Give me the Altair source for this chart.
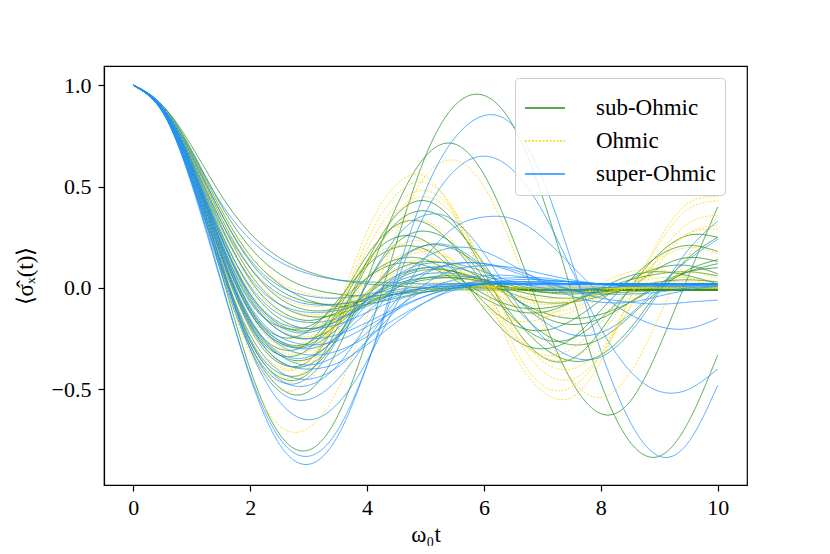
import altair as alt
import pandas as pd

T = [0.0, 0.5, 1.0, 1.5, 2.0, 2.5, 3.0, 3.5, 4.0, 4.5, 5.0,
     5.5, 6.0, 6.5, 7.0, 7.5, 8.0, 8.5, 9.0, 9.5, 10.0]

SUB_OHMIC = [
    [1.00, 0.88, 0.55, 0.08, -0.40, -0.72, -0.80, -0.63, -0.25, 0.22, 0.65, 0.90, 0.95, 0.80, 0.45, -0.02, -0.47, -0.76, -0.83, -0.66, -0.33],
    [1.00, 0.88, 0.56, 0.12, -0.28, -0.49, -0.51, -0.30, 0.04, 0.40, 0.65, 0.71, 0.56, 0.24, -0.14, -0.46, -0.62, -0.56, -0.29, 0.06, 0.40],
    [1.00, 0.88, 0.57, 0.16, -0.20, -0.37, -0.36, -0.16, 0.13, 0.36, 0.43, 0.32, 0.08, -0.18, -0.34, -0.35, -0.21, 0.00, 0.17, 0.26, 0.25],
    [1.00, 0.88, 0.58, 0.18, -0.16, -0.30, -0.27, -0.08, 0.16, 0.31, 0.32, 0.20, 0.02, -0.15, -0.25, -0.25, -0.15, -0.01, 0.10, 0.15, 0.13],
    [1.00, 0.89, 0.60, 0.22, -0.10, -0.24, -0.21, -0.06, 0.11, 0.20, 0.19, 0.08, -0.07, -0.18, -0.21, -0.16, -0.06, 0.04, 0.10, 0.11, 0.07],
    [1.00, 0.88, 0.55, 0.13, -0.25, -0.42, -0.41, -0.24, 0.02, 0.22, 0.28, 0.21, 0.05, -0.14, -0.29, -0.36, -0.33, -0.20, -0.01, 0.15, 0.25],
    [1.00, 0.89, 0.60, 0.23, -0.07, -0.19, -0.19, -0.08, 0.05, 0.12, 0.11, 0.04, -0.05, -0.11, -0.12, -0.07, 0.00, 0.06, 0.08, 0.06, 0.02],
    [1.00, 0.90, 0.70, 0.46, 0.27, 0.15, 0.08, 0.04, 0.02, 0.01, 0.00, 0.00, 0.00, 0.00, 0.00, 0.00, 0.00, 0.00, 0.00, 0.00, 0.00],
    [1.00, 0.90, 0.68, 0.41, 0.20, 0.07, 0.00, -0.03, -0.04, -0.03, -0.02, -0.01, -0.01, -0.01, -0.01, -0.01, -0.01, -0.01, -0.01, -0.01, -0.01],
    [1.00, 0.89, 0.66, 0.37, 0.13, -0.01, -0.07, -0.08, -0.06, -0.03, -0.01, 0.00, 0.00, -0.01, -0.01, -0.01, -0.01, -0.01, -0.01, -0.01, -0.01],
    [1.00, 0.89, 0.64, 0.33, 0.07, -0.08, -0.14, -0.13, -0.08, -0.03, 0.00, 0.01, 0.01, 0.00, -0.01, -0.01, -0.01, -0.01, -0.01, -0.01, -0.01],
    [1.00, 0.89, 0.62, 0.28, 0.00, -0.15, -0.20, -0.16, -0.08, 0.00, 0.04, 0.05, 0.03, 0.00, -0.02, -0.02, -0.02, -0.01, -0.01, -0.01, -0.01],
    [1.00, 0.88, 0.60, 0.25, -0.05, -0.21, -0.25, -0.18, -0.06, 0.04, 0.09, 0.08, 0.04, -0.01, -0.04, -0.05, -0.03, -0.02, -0.01, -0.01, -0.01],
    [1.00, 0.90, 0.67, 0.39, 0.16, 0.02, -0.06, -0.09, -0.08, -0.05, -0.02, 0.00, 0.01, 0.00, -0.01, -0.01, -0.01, -0.01, -0.01, -0.01, -0.01],
    [1.00, 0.88, 0.59, 0.21, -0.11, -0.26, -0.27, -0.13, 0.05, 0.14, 0.14, 0.06, -0.03, -0.09, -0.10, -0.07, -0.01, 0.04, 0.07, 0.08, 0.06],
    [1.00, 0.88, 0.58, 0.17, -0.18, -0.33, -0.30, -0.11, 0.13, 0.25, 0.23, 0.09, -0.10, -0.25, -0.30, -0.25, -0.11, 0.04, 0.16, 0.21, 0.18],
    [1.00, 0.88, 0.56, 0.13, -0.26, -0.44, -0.42, -0.19, 0.11, 0.32, 0.38, 0.30, 0.12, -0.08, -0.22, -0.28, -0.25, -0.14, -0.01, 0.09, 0.14],
    [1.00, 0.89, 0.65, 0.35, 0.10, -0.05, -0.11, -0.10, -0.05, 0.01, 0.05, 0.06, 0.04, 0.01, -0.02, -0.03, -0.02, -0.01, 0.00, 0.00, 0.00],
    [1.00, 0.88, 0.57, 0.17, -0.17, -0.33, -0.35, -0.23, -0.04, 0.13, 0.21, 0.19, 0.09, -0.04, -0.14, -0.18, -0.15, -0.07, 0.02, 0.08, 0.10],
    [1.00, 0.89, 0.61, 0.26, -0.03, -0.18, -0.21, -0.14, -0.03, 0.06, 0.10, 0.08, 0.03, -0.03, -0.07, -0.07, -0.04, 0.00, 0.03, 0.04, 0.03],
    [1.00, 0.89, 0.63, 0.31, 0.04, -0.11, -0.16, -0.12, -0.05, 0.02, 0.05, 0.05, 0.03, 0.00, -0.02, -0.02, -0.01, 0.00, 0.00, 0.00, 0.00],
    [1.00, 0.88, 0.59, 0.20, -0.12, -0.27, -0.28, -0.17, -0.02, 0.09, 0.13, 0.11, 0.04, -0.05, -0.12, -0.15, -0.13, -0.07, 0.01, 0.08, 0.12],
]

OHMIC = [
    [1.00, 0.87, 0.52, 0.04, -0.43, -0.68, -0.69, -0.50, -0.14, 0.27, 0.55, 0.63, 0.50, 0.19, -0.18, -0.45, -0.54, -0.42, -0.14, 0.16, 0.35],
    [1.00, 0.88, 0.55, 0.10, -0.30, -0.46, -0.40, -0.10, 0.28, 0.51, 0.55, 0.36, 0.02, -0.32, -0.51, -0.54, -0.36, -0.05, 0.24, 0.42, 0.45],
    [1.00, 0.88, 0.55, 0.11, -0.29, -0.44, -0.39, -0.12, 0.23, 0.46, 0.52, 0.38, 0.06, -0.28, -0.48, -0.49, -0.33, -0.05, 0.22, 0.39, 0.43],
    [1.00, 0.88, 0.56, 0.13, -0.25, -0.40, -0.36, -0.12, 0.19, 0.41, 0.48, 0.37, 0.10, -0.21, -0.41, -0.45, -0.33, -0.09, 0.16, 0.32, 0.36],
    [1.00, 0.88, 0.57, 0.16, -0.20, -0.36, -0.34, -0.17, 0.05, 0.20, 0.23, 0.12, -0.07, -0.24, -0.33, -0.30, -0.17, 0.00, 0.14, 0.20, 0.17],
    [1.00, 0.89, 0.59, 0.20, -0.13, -0.28, -0.25, -0.07, 0.12, 0.21, 0.17, 0.04, -0.09, -0.16, -0.15, -0.07, 0.02, 0.08, 0.09, 0.05, 0.00],
    [1.00, 0.89, 0.65, 0.35, 0.10, -0.04, -0.09, -0.08, -0.05, -0.02, 0.00, 0.01, 0.01, 0.00, 0.00, 0.00, 0.00, 0.00, 0.00, 0.00, 0.00],
    [1.00, 0.89, 0.63, 0.30, 0.03, -0.12, -0.17, -0.14, -0.07, -0.01, 0.02, 0.03, 0.02, 0.01, 0.00, 0.00, 0.00, 0.00, 0.00, 0.00, 0.00],
    [1.00, 0.88, 0.60, 0.25, -0.05, -0.20, -0.24, -0.17, -0.06, 0.03, 0.07, 0.06, 0.02, -0.01, -0.02, -0.02, -0.01, 0.00, 0.00, 0.00, 0.00],
    [1.00, 0.88, 0.58, 0.20, -0.12, -0.29, -0.31, -0.19, -0.02, 0.10, 0.14, 0.10, 0.02, -0.04, -0.07, -0.06, -0.03, 0.00, 0.02, 0.02, 0.01],
    [1.00, 0.90, 0.67, 0.39, 0.16, 0.03, -0.03, -0.05, -0.04, -0.02, -0.01, 0.00, 0.00, 0.00, 0.00, 0.00, 0.00, 0.00, 0.00, 0.00, 0.00],
    [1.00, 0.88, 0.56, 0.16, -0.18, -0.36, -0.38, -0.24, -0.04, 0.12, 0.18, 0.13, 0.02, -0.09, -0.14, -0.12, -0.05, 0.02, 0.07, 0.08, 0.05],
    [1.00, 0.88, 0.54, 0.09, -0.32, -0.50, -0.46, -0.22, 0.12, 0.37, 0.45, 0.35, 0.10, -0.18, -0.36, -0.40, -0.30, -0.10, 0.12, 0.27, 0.31],
    [1.00, 0.89, 0.62, 0.27, -0.02, -0.17, -0.20, -0.13, -0.02, 0.06, 0.09, 0.07, 0.02, -0.03, -0.05, -0.05, -0.03, 0.00, 0.02, 0.02, 0.01],
    [1.00, 0.88, 0.58, 0.21, -0.10, -0.26, -0.28, -0.18, -0.03, 0.08, 0.12, 0.09, 0.02, -0.05, -0.08, -0.07, -0.03, 0.01, 0.03, 0.03, 0.02],
    [1.00, 0.89, 0.64, 0.33, 0.07, -0.08, -0.13, -0.11, -0.06, -0.01, 0.02, 0.02, 0.01, 0.00, 0.00, 0.00, 0.00, 0.00, 0.00, 0.00, 0.00],
    [1.00, 0.88, 0.56, 0.14, -0.23, -0.39, -0.36, -0.15, 0.12, 0.30, 0.33, 0.22, 0.00, -0.22, -0.34, -0.35, -0.23, -0.03, 0.15, 0.27, 0.29],
    [1.00, 0.88, 0.57, 0.18, -0.15, -0.31, -0.31, -0.17, 0.02, 0.15, 0.19, 0.13, 0.02, -0.08, -0.12, -0.10, -0.04, 0.02, 0.05, 0.05, 0.03],
]

SUPER_OHMIC = [
    [1.00, 0.87, 0.52, 0.04, -0.44, -0.77, -0.87, -0.73, -0.38, 0.06, 0.48, 0.74, 0.85, 0.80, 0.54, 0.13, -0.31, -0.66, -0.83, -0.76, -0.48],
    [1.00, 0.87, 0.51, 0.03, -0.43, -0.74, -0.83, -0.70, -0.38, 0.02, 0.37, 0.58, 0.65, 0.58, 0.38, 0.09, -0.20, -0.41, -0.51, -0.50, -0.40],
    [1.00, 0.88, 0.55, 0.12, -0.30, -0.56, -0.65, -0.57, -0.36, -0.08, 0.15, 0.30, 0.35, 0.34, 0.25, 0.11, -0.03, -0.13, -0.19, -0.20, -0.15],
    [1.00, 0.87, 0.53, 0.10, -0.28, -0.46, -0.44, -0.25, 0.02, 0.25, 0.36, 0.33, 0.17, -0.05, -0.24, -0.34, -0.34, -0.22, -0.02, 0.19, 0.33],
    [1.00, 0.88, 0.56, 0.16, -0.18, -0.36, -0.38, -0.25, -0.05, 0.12, 0.21, 0.20, 0.10, -0.04, -0.16, -0.23, -0.22, -0.13, 0.01, 0.14, 0.24],
    [1.00, 0.88, 0.58, 0.22, -0.10, -0.26, -0.30, -0.24, -0.12, 0.00, 0.08, 0.12, 0.12, 0.09, 0.04, -0.01, -0.05, -0.07, -0.08, -0.07, -0.06],
    [1.00, 0.90, 0.67, 0.42, 0.24, 0.13, 0.07, 0.04, 0.03, 0.025, 0.02, 0.02, 0.02, 0.02, 0.02, 0.02, 0.02, 0.02, 0.02, 0.02, 0.02],
    [1.00, 0.89, 0.63, 0.33, 0.10, -0.03, -0.08, -0.08, -0.05, -0.02, 0.00, 0.01, 0.02, 0.02, 0.02, 0.02, 0.02, 0.02, 0.02, 0.02, 0.02],
    [1.00, 0.89, 0.61, 0.27, 0.01, -0.13, -0.17, -0.15, -0.09, -0.04, 0.00, 0.02, 0.03, 0.03, 0.025, 0.02, 0.02, 0.02, 0.02, 0.02, 0.02],
    [1.00, 0.88, 0.59, 0.23, -0.06, -0.21, -0.25, -0.23, -0.17, -0.10, -0.04, 0.00, 0.02, 0.03, 0.03, 0.03, 0.02, 0.02, 0.02, 0.02, 0.02],
    [1.00, 0.88, 0.57, 0.19, -0.12, -0.28, -0.33, -0.31, -0.24, -0.15, -0.07, -0.01, 0.02, 0.04, 0.04, 0.03, 0.02, 0.02, 0.01, 0.01, 0.01],
    [1.00, 0.87, 0.54, 0.14, -0.19, -0.36, -0.40, -0.37, -0.28, -0.17, -0.07, 0.00, 0.04, 0.05, 0.05, 0.03, 0.02, 0.01, 0.01, 0.01, 0.01],
    [1.00, 0.88, 0.60, 0.25, -0.04, -0.19, -0.22, -0.16, -0.06, 0.03, 0.07, 0.07, 0.04, 0.02, 0.01, 0.01, 0.01, 0.02, 0.02, 0.02, 0.02],
    [1.00, 0.88, 0.58, 0.20, -0.12, -0.27, -0.29, -0.20, -0.06, 0.05, 0.10, 0.10, 0.06, 0.02, -0.01, -0.01, 0.00, 0.01, 0.02, 0.02, 0.02],
    [1.00, 0.89, 0.62, 0.30, 0.05, -0.08, -0.12, -0.11, -0.07, -0.03, 0.00, 0.01, 0.02, 0.02, 0.02, 0.02, 0.02, 0.02, 0.02, 0.02, 0.02],
    [1.00, 0.87, 0.53, 0.11, -0.23, -0.41, -0.45, -0.39, -0.26, -0.11, 0.02, 0.09, 0.11, 0.10, 0.07, 0.04, 0.02, 0.01, 0.01, 0.01, 0.02],
    [1.00, 0.87, 0.52, 0.08, -0.30, -0.51, -0.55, -0.45, -0.26, -0.06, 0.07, 0.12, 0.12, 0.08, 0.03, -0.01, -0.03, -0.03, -0.02, 0.00, 0.01],
    [1.00, 0.87, 0.55, 0.16, -0.16, -0.33, -0.38, -0.33, -0.22, -0.10, -0.01, 0.04, 0.06, 0.06, 0.04, 0.03, 0.02, 0.01, 0.01, 0.01, 0.02],
    [1.00, 0.88, 0.58, 0.21, -0.09, -0.24, -0.28, -0.26, -0.19, -0.11, -0.04, 0.00, 0.02, 0.03, 0.03, 0.02, 0.02, 0.02, 0.02, 0.02, 0.02],
    [1.00, 0.89, 0.60, 0.25, -0.03, -0.17, -0.20, -0.18, -0.12, -0.06, -0.02, 0.01, 0.02, 0.02, 0.02, 0.02, 0.02, 0.02, 0.02, 0.02, 0.02],
    [1.00, 0.87, 0.53, 0.10, -0.26, -0.45, -0.48, -0.38, -0.18, 0.02, 0.15, 0.20, 0.18, 0.11, 0.03, -0.04, -0.07, -0.07, -0.04, -0.01, 0.01],
    [1.00, 0.89, 0.65, 0.37, 0.14, 0.01, -0.04, -0.05, -0.03, -0.01, 0.01, 0.02, 0.02, 0.02, 0.02, 0.02, 0.02, 0.02, 0.02, 0.02, 0.02],
    [1.00, 0.88, 0.57, 0.18, -0.15, -0.32, -0.34, -0.24, -0.08, 0.06, 0.12, 0.12, 0.08, 0.03, 0.00, -0.01, 0.00, 0.01, 0.02, 0.02, 0.02],
]

FAMILIES = ["sub-Ohmic", "Ohmic", "super-Ohmic"]
COLORS = ["#1f8c1f", "#ffd400", "#1e90ff"]
DASHES = [[1, 0], [2, 1.5], [1, 0]]

rows = []
for fi, (name, curves) in enumerate(zip(FAMILIES, [SUB_OHMIC, OHMIC, SUPER_OHMIC])):
    for ci, curve in enumerate(curves):
        for t, v in zip(T, curve):
            rows.append({"t": t, "v": v, "family": name, "curve": f"{fi}_{ci:02d}"})
df = pd.DataFrame(rows)

FONT = "Liberation Serif"

legend = alt.Legend(
    title=None, orient="none", legendX=411, legendY=12,
    symbolType="stroke", symbolSize=1600, symbolStrokeWidth=1.3, symbolOpacity=1,
    symbolDash={"expr": "datum.label === 'Ohmic' ? [2, 1.5] : [1, 0]"},
    labelFont=FONT, labelFontSize=23, labelColor="black", labelOffset=30,
    rowPadding=-5, padding=9, fillColor="rgba(255,255,255,0.85)", strokeColor="#cccccc",
    cornerRadius=4,
)

chart = alt.Chart(df).mark_line(
    interpolate="natural", strokeWidth=0.9, opacity=0.85, clip=True
).encode(
    x=alt.X("t:Q",
            scale=alt.Scale(domain=[-0.5, 10.5], nice=False, zero=False),
            axis=alt.Axis(values=[0, 2, 4, 6, 8, 10], format="d", title="ω₀t",
                          grid=False, labelPadding=6, titlePadding=5)),
    y=alt.Y("v:Q",
            scale=alt.Scale(domain=[-0.972, 1.095], nice=False, zero=False),
            axis=alt.Axis(values=[-0.5, 0.0, 0.5, 1.0], format=".1f", title="⟨σ̂ₓ(t)⟩",
                          grid=False, labelPadding=7, titlePadding=14)),
    color=alt.Color("family:N", scale=alt.Scale(domain=FAMILIES, range=COLORS), legend=legend),
    strokeDash=alt.StrokeDash("family:N", scale=alt.Scale(domain=FAMILIES, range=DASHES), legend=None),
    detail="curve:N",
).properties(
    width=643, height=419,
    autosize=alt.AutoSizeParams(type="none"),
    padding={"left": 96, "top": 58, "right": 75, "bottom": 61},
).configure(
    font=FONT
).configure_view(
    stroke="black", strokeWidth=1.2
).configure_axis(
    domainColor="black", domainWidth=1.2, tickColor="black", tickWidth=1.2, tickSize=6,
    labelFont=FONT, labelFontSize=22, labelColor="black",
    titleFont=FONT, titleFontSize=23, titleFontWeight="normal", titleColor="black",
)

chart.save("out.html", embed_options={"renderer": "svg", "actions": False})
